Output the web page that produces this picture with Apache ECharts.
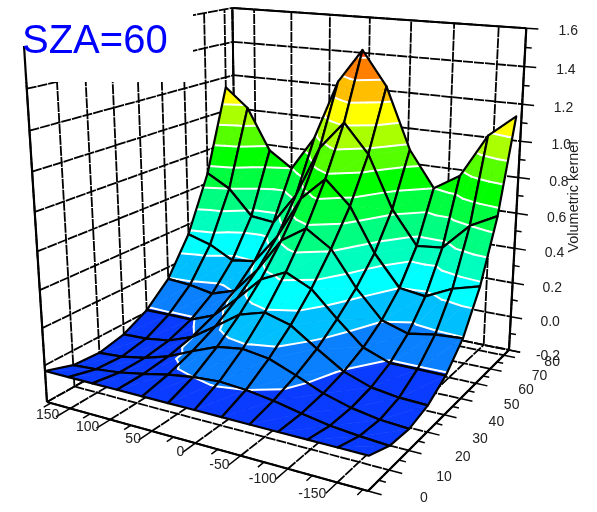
<!DOCTYPE html>
<html><head><meta charset="utf-8">
<style>html,body{margin:0;padding:0;background:#fff}#c{width:597px;height:512px}</style>
<script src="https://cdn.jsdelivr.net/npm/echarts@6/dist/echarts.min.js"></script>
</head><body><div id="c"></div>
<script>
// Data
const azimuth=[180,150,120,90,60,30,0,-30,-60,-90,-120,-150,-180];
const zenith=[0,10,20,30,40,50,60,70,80];
const zAt0=[-.03,-.03,-.03,-.03,-.03,-.03,-.03,-.03,-.03,-.03,-.03,-.03,-.03];
const zAt10=[-.08,-.07,-.055,-.03,0,.02,.03,.02,0,-.03,-.055,-.07,-.08];
const zAt20=[-.09,-.08,-.055,-.015,.045,.1,.12,.1,.045,-.015,-.055,-.08,-.09];
const zAt30=[-.06,-.055,-.035,.015,.105,.2,.24,.2,.105,.015,-.035,-.055,-.06];
const zAt40=[.01,.012,.012,.065,.19,.325,.39,.325,.19,.065,.012,.012,.01];
const zAt50=[.13,.12,.095,.14,.29,.48,.57,.48,.29,.14,.095,.12,.13];
const zAt60=[.34,.30,.23,.25,.42,.66,.79,.66,.42,.25,.23,.30,.34];
const zAt70=[.66,.585,.44,.425,.61,.90,1.06,.90,.61,.425,.44,.585,.66];
const zAt80=[1.14,1.03,.79,.70,.90,1.24,1.43,1.24,.90,.70,.79,1.03,1.15];
const xTicks=[150,100,50,0,-50,-100,-150];
const xMinor=[175,125,75,25,-25,-75,-125,-175];
const yTicks=[0,10,20,30,40,50,60,70,80];
const yMinor=[5,15,25,35,45,55,65,75];
const zTicks=[-0.2,0,0.2,0.4,0.6,0.8,1,1.2,1.4,1.6];
const zMinor=[-0.1,0.1,0.3,0.5,0.7,0.9,1.1,1.3,1.5];
const contourLevels=[.02,.135,.25,.36,.47,.585,.70,.815,.93,1.045,1.16,1.275,1.39];
const bandColors=['#0a3cff','#0a80ff','#00bfff','#00ffff','#00ffbf','#00ff80','#00ff40','#00ff00','#55ff00','#aaff00','#ffff00','#ffbf00','#ff8000','#ff4000'];
const title='SZA=60', zTitle='Volumetric kernel';
const yAxisMax=84;

const zGrid=[zAt0,zAt10,zAt20,zAt30,zAt40,zAt50,zAt60,zAt70,zAt80];
// perspective camera of the box
const A=[47,402],Atop=[24,46],B=[368,491],C=[509,350],persp={a:-.141,b:.252,c:-.084};
const Pu=[B[0]*(1+persp.a)-A[0],B[1]*(1+persp.a)-A[1]];
const Pw=[Atop[0]*(1+persp.c)-A[0],Atop[1]*(1+persp.c)-A[1]];
const Pv=[C[0]*(1+persp.a+persp.b)-B[0]*(1+persp.a),C[1]*(1+persp.a+persp.b)-B[1]*(1+persp.a)];
function proj(x,y,z){
  const u=(180-x)/360,v=y/yAxisMax,w=(z+.2)/1.8,d=1+persp.a*u+persp.b*v+persp.c*w;
  return [(A[0]+u*Pu[0]+v*Pv[0]+w*Pw[0])/d,(A[1]+u*Pu[1]+v*Pv[1]+w*Pw[1])/d];
}
// dashed wall and floor grid
const gridSegs=[];
const wx=[180,...xTicks,-180],wy=[...yTicks,yAxisMax],wz=zTicks;
wz.forEach(z=>{gridSegs.push([[180,0,z],[180,yAxisMax,z]]);gridSegs.push([[180,yAxisMax,z],[-180,yAxisMax,z]]);});
wy.forEach(y=>{gridSegs.push([[180,y,-.2],[180,y,1.6]]);gridSegs.push([[180,y,-.2],[-180,y,-.2]]);});
wx.forEach(x=>{gridSegs.push([[x,yAxisMax,-.2],[x,yAxisMax,1.6]]);gridSegs.push([[x,0,-.2],[x,yAxisMax,-.2]]);});
// solid axes and ticks
const axisSegs=[
 {p:[[180,0,-.2],[-180,0,-.2]],w:2.2},{p:[[-180,0,-.2],[-180,yAxisMax,-.2]],w:2.2},
 {p:[[-180,yAxisMax,-.2],[-180,yAxisMax,1.6]],w:2.2},{p:[[180,0,-.2],[180,0,1.6]],w:2.2},{p:[[180,yAxisMax,1.6],[-180,yAxisMax,1.6]],w:2},
 {p:[[180,yAxisMax,1.6],[180,yAxisMax,1.2]],w:2}];
xTicks.forEach(x=>axisSegs.push({p:[[x,0,-.2],[x,-5,-.2]],w:1.5}));
xMinor.forEach(x=>axisSegs.push({p:[[x,0,-.2],[x,-2.5,-.2]],w:1.5}));
[...yTicks,yAxisMax].forEach(y=>axisSegs.push({p:[[-180,y,-.2],[-193,y,-.2]],w:1.5}));
yMinor.forEach(y=>axisSegs.push({p:[[-180,y,-.2],[-187,y,-.2]],w:1.5}));
zTicks.forEach(z=>axisSegs.push({p:[[-180,yAxisMax,z],[-193,yAxisMax,z]],w:1.5}));
zMinor.forEach(z=>axisSegs.push({p:[[-180,yAxisMax,z],[-187,yAxisMax,z]],w:1.5}));

const cells=[];
for(let j=zenith.length-2;j>=0;j--)for(let i=0;i<azimuth.length-1;i++)cells.push([i,j]);

function clip(poly,level,keepAbove){
  const out=[];
  for(let k=0;k<poly.length;k++){
    const p=poly[k],q=poly[(k+1)%poly.length];
    const pin=keepAbove?p[2]>=level:p[2]<=level,qin=keepAbove?q[2]>=level:q[2]<=level;
    if(pin)out.push(p);
    if(pin!==qin){const t=(level-p[2])/(q[2]-p[2]);out.push([p[0]+t*(q[0]-p[0]),p[1]+t*(q[1]-p[1]),level]);}
  }
  return out;
}
function renderCell(params,api){
  const i=api.value(0),j=api.value(1);
  const toXY=p=>{const s=proj(p[0],p[1],p[2]);return api.coord(s);};
  const v=(a,b)=>[azimuth[a],zenith[b],zGrid[b][a]];
  const c=[v(i,j),v(i+1,j),v(i+1,j+1),v(i,j+1)];
  const tris=[[c[0],c[1],c[2]],[c[0],c[2],c[3]]];
  const children=[];
  tris.forEach(t=>{
    for(let b=0;b<bandColors.length;b++){
      let poly=t;
      if(b>0)poly=clip(poly,contourLevels[b-1],true);
      if(poly.length&&b<contourLevels.length)poly=clip(poly,contourLevels[b],false);
      if(poly.length>2){
        children.push({type:'polygon',shape:{points:poly.map(toXY)},style:{fill:bandColors[b],stroke:bandColors[b],lineWidth:.6}});
      }
    }
  });
  tris.forEach(t=>{
    contourLevels.forEach(L=>{
      const pts=[];
      for(let k=0;k<3;k++){
        const p=t[k],q=t[(k+1)%3];
        if((p[2]<L)!==(q[2]<L)){const s=(L-p[2])/(q[2]-p[2]);pts.push([p[0]+s*(q[0]-p[0]),p[1]+s*(q[1]-p[1]),L]);}
      }
      if(pts.length===2)children.push({type:'polyline',shape:{points:pts.map(toXY)},style:{fill:null,stroke:'#fff',lineWidth:2,lineCap:'round'}});
    });
  });
  children.push({type:'polygon',shape:{points:c.map(toXY)},style:{fill:null,stroke:'#000',lineWidth:2.2,lineJoin:'round'}});
  return {type:'group',children};
}
function renderSeg(style){return function(params,api){
  const s=style.data[params.dataIndex];
  const pts=(s.p||s).map(p=>api.coord(proj(p[0],p[1],p[2])));
  return {type:'polyline',shape:{points:pts},style:{fill:null,stroke:'#000',lineWidth:s.w||style.w,lineDash:style.dash||null}};
};}
const labels=[];
xTicks.forEach(x=>{const u=(180-x)/360,p=proj(x,0,-.2);labels.push({t:String(x),x:p[0]-11,y:p[1]+6+6*u,a:'right'});});
yTicks.forEach(y=>{const v=y/yAxisMax,p=proj(-180,y,-.2);labels.push({t:String(y),x:p[0]+56-8*v,y:p[1]+7,a:'center'});});
zTicks.forEach(z=>{const w=(z+.2)/1.8,p=proj(-180,yAxisMax,z);labels.push({t:z.toFixed(1),x:p[0]+39+3*w,y:p[1]+6-3*w,a:'center'});});
function renderLabel(params,api){
  const l=labels[params.dataIndex],q=api.coord([l.x,l.y]);
  return {type:'text',x:q[0],y:q[1],style:{text:l.t,fill:'#222',font:'14px "Liberation Sans"',align:l.a,verticalAlign:'middle'}};
}
const simple=(n,renderItem)=>({type:'custom',coordinateSystem:'cartesian2d',silent:true,animation:false,clip:false,progressive:0,renderItem,data:Array.from({length:n},(_,k)=>[k,k])});
const chart=echarts.init(document.getElementById('c'),null,{renderer:'canvas'});
chart.setOption({
  animation:false,backgroundColor:'#fff',
  grid:{left:0,right:0,top:0,bottom:0,containLabel:false},
  xAxis:{type:'value',min:0,max:597,show:false},
  yAxis:{type:'value',min:0,max:512,inverse:true,show:false},
  series:[
    simple(gridSegs.length,renderSeg({data:gridSegs,w:1.8,dash:[10,1]})),
    simple(1,(p,api)=>{const a=api.coord([0,0]),b=api.coord([193,82]);return {type:'rect',shape:{x:a[0],y:a[1],width:b[0]-a[0],height:b[1]-a[1]},style:{fill:'#fff'}};}),
    simple(axisSegs.length,renderSeg({data:axisSegs})),
    {type:'custom',coordinateSystem:'cartesian2d',silent:true,animation:false,clip:false,progressive:0,renderItem:renderCell,data:cells},
    simple(labels.length,renderLabel),
    simple(1,(p,api)=>{const q=api.coord([22,42]);return {type:'text',x:q[0],y:q[1],style:{text:title,fill:'#0000ff',font:'40px "Liberation Sans"',align:'left',verticalAlign:'middle'}};}),
    simple(1,(p,api)=>{const q=api.coord([574,197]);return {type:'text',x:q[0],y:q[1],rotation:Math.PI/2,style:{text:zTitle,fill:'#222',font:'14.5px "Liberation Sans"',align:'center',verticalAlign:'middle'}};})
  ]
});
</script></body></html>
